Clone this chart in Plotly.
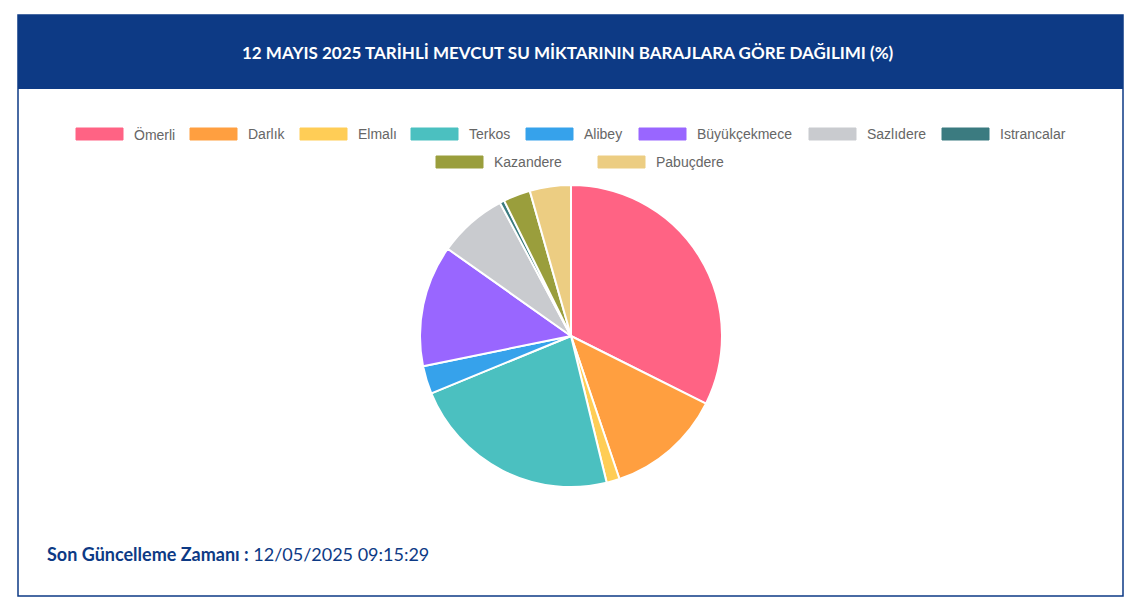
import plotly.graph_objects as go

dams = ["Ömerli", "Darlık", "Elmalı", "Terkos", "Alibey", "Büyükçekmece",
        "Sazlıdere", "Istrancalar", "Kazandere", "Pabuçdere"]
shares = [32.4, 12.4, 1.4, 22.6, 3.0, 13.0, 7.4, 0.5, 2.9, 4.4]
colors = ["#ff6384", "#ff9f40", "#ffcd56", "#4bc0c0", "#36a2eb", "#9966ff",
          "#c9cbcf", "#3b7b80", "#9a9e3c", "#eccd82"]

W, H = 1135, 601
def px(x): return x / W
def py(y): return 1 - y / H

fig = go.Figure(go.Pie(
    labels=dams, values=shares, sort=False, direction="clockwise", rotation=0,
    marker=dict(colors=colors, line=dict(color="white", width=2)),
    textinfo="none", hoverinfo="label+percent", showlegend=False,
    domain=dict(x=[px(420), px(722)], y=[py(487), py(185)]),
))

# card + header
fig.add_shape(type="rect", xref="paper", yref="paper", x0=px(18), x1=px(1123),
              y0=py(596), y1=py(15), line=dict(color="#0d3a85", width=1.5),
              fillcolor="white", layer="below")
fig.add_shape(type="rect", xref="paper", yref="paper", x0=px(18), x1=px(1123),
              y0=py(89), y1=py(15), line=dict(width=0), fillcolor="#0d3a85",
              layer="below")
fig.add_annotation(x=0.5, y=py(52), xref="paper", yref="paper", showarrow=False,
                   yanchor="middle",
                   text="<b>12 MAYIS 2025 TARİHLİ MEVCUT SU MİKTARININ BARAJLARA GÖRE DAĞILIMI (%)</b>",
                   font=dict(color="white", size=17, family="Lato"))
fig.add_annotation(x=px(45), y=py(554), xref="paper", yref="paper", showarrow=False,
                   xanchor="left", yanchor="middle",
                   text="<b>Son Güncelleme Zamanı :</b> 12/05/2025 09:15:29",
                   font=dict(color="#0d3a85", size=18, family="Lato"))

# legend (chart.js style: wide boxes, two centred rows)
box_x = [76, 190, 300, 411, 526, 639, 809, 942, 436, 598]
box_y = [134] * 8 + [162] * 2
for name, col, bx, by in zip(dams, colors, box_x, box_y):
    fig.add_shape(type="rect", xref="paper", yref="paper",
                  x0=px(bx), x1=px(bx + 47), y0=py(by + 6), y1=py(by - 6),
                  fillcolor=col, line=dict(color=col, width=1))
    fig.add_annotation(x=px(bx + 56), y=py(by), xref="paper", yref="paper",
                       showarrow=False, xanchor="left", yanchor="middle", text=name,
                       font=dict(family="Liberation Sans", size=14, color="#666"))

fig.update_layout(
    width=W, height=H, margin=dict(l=0, r=0, t=0, b=0),
    paper_bgcolor="white", plot_bgcolor="white",
    font=dict(family="Liberation Sans", color="#666"),
)
fig.write_html("out.html", config={"displayModeBar": False},
               post_script="document.body.style.margin='0';document.body.style.overflow='hidden';")
